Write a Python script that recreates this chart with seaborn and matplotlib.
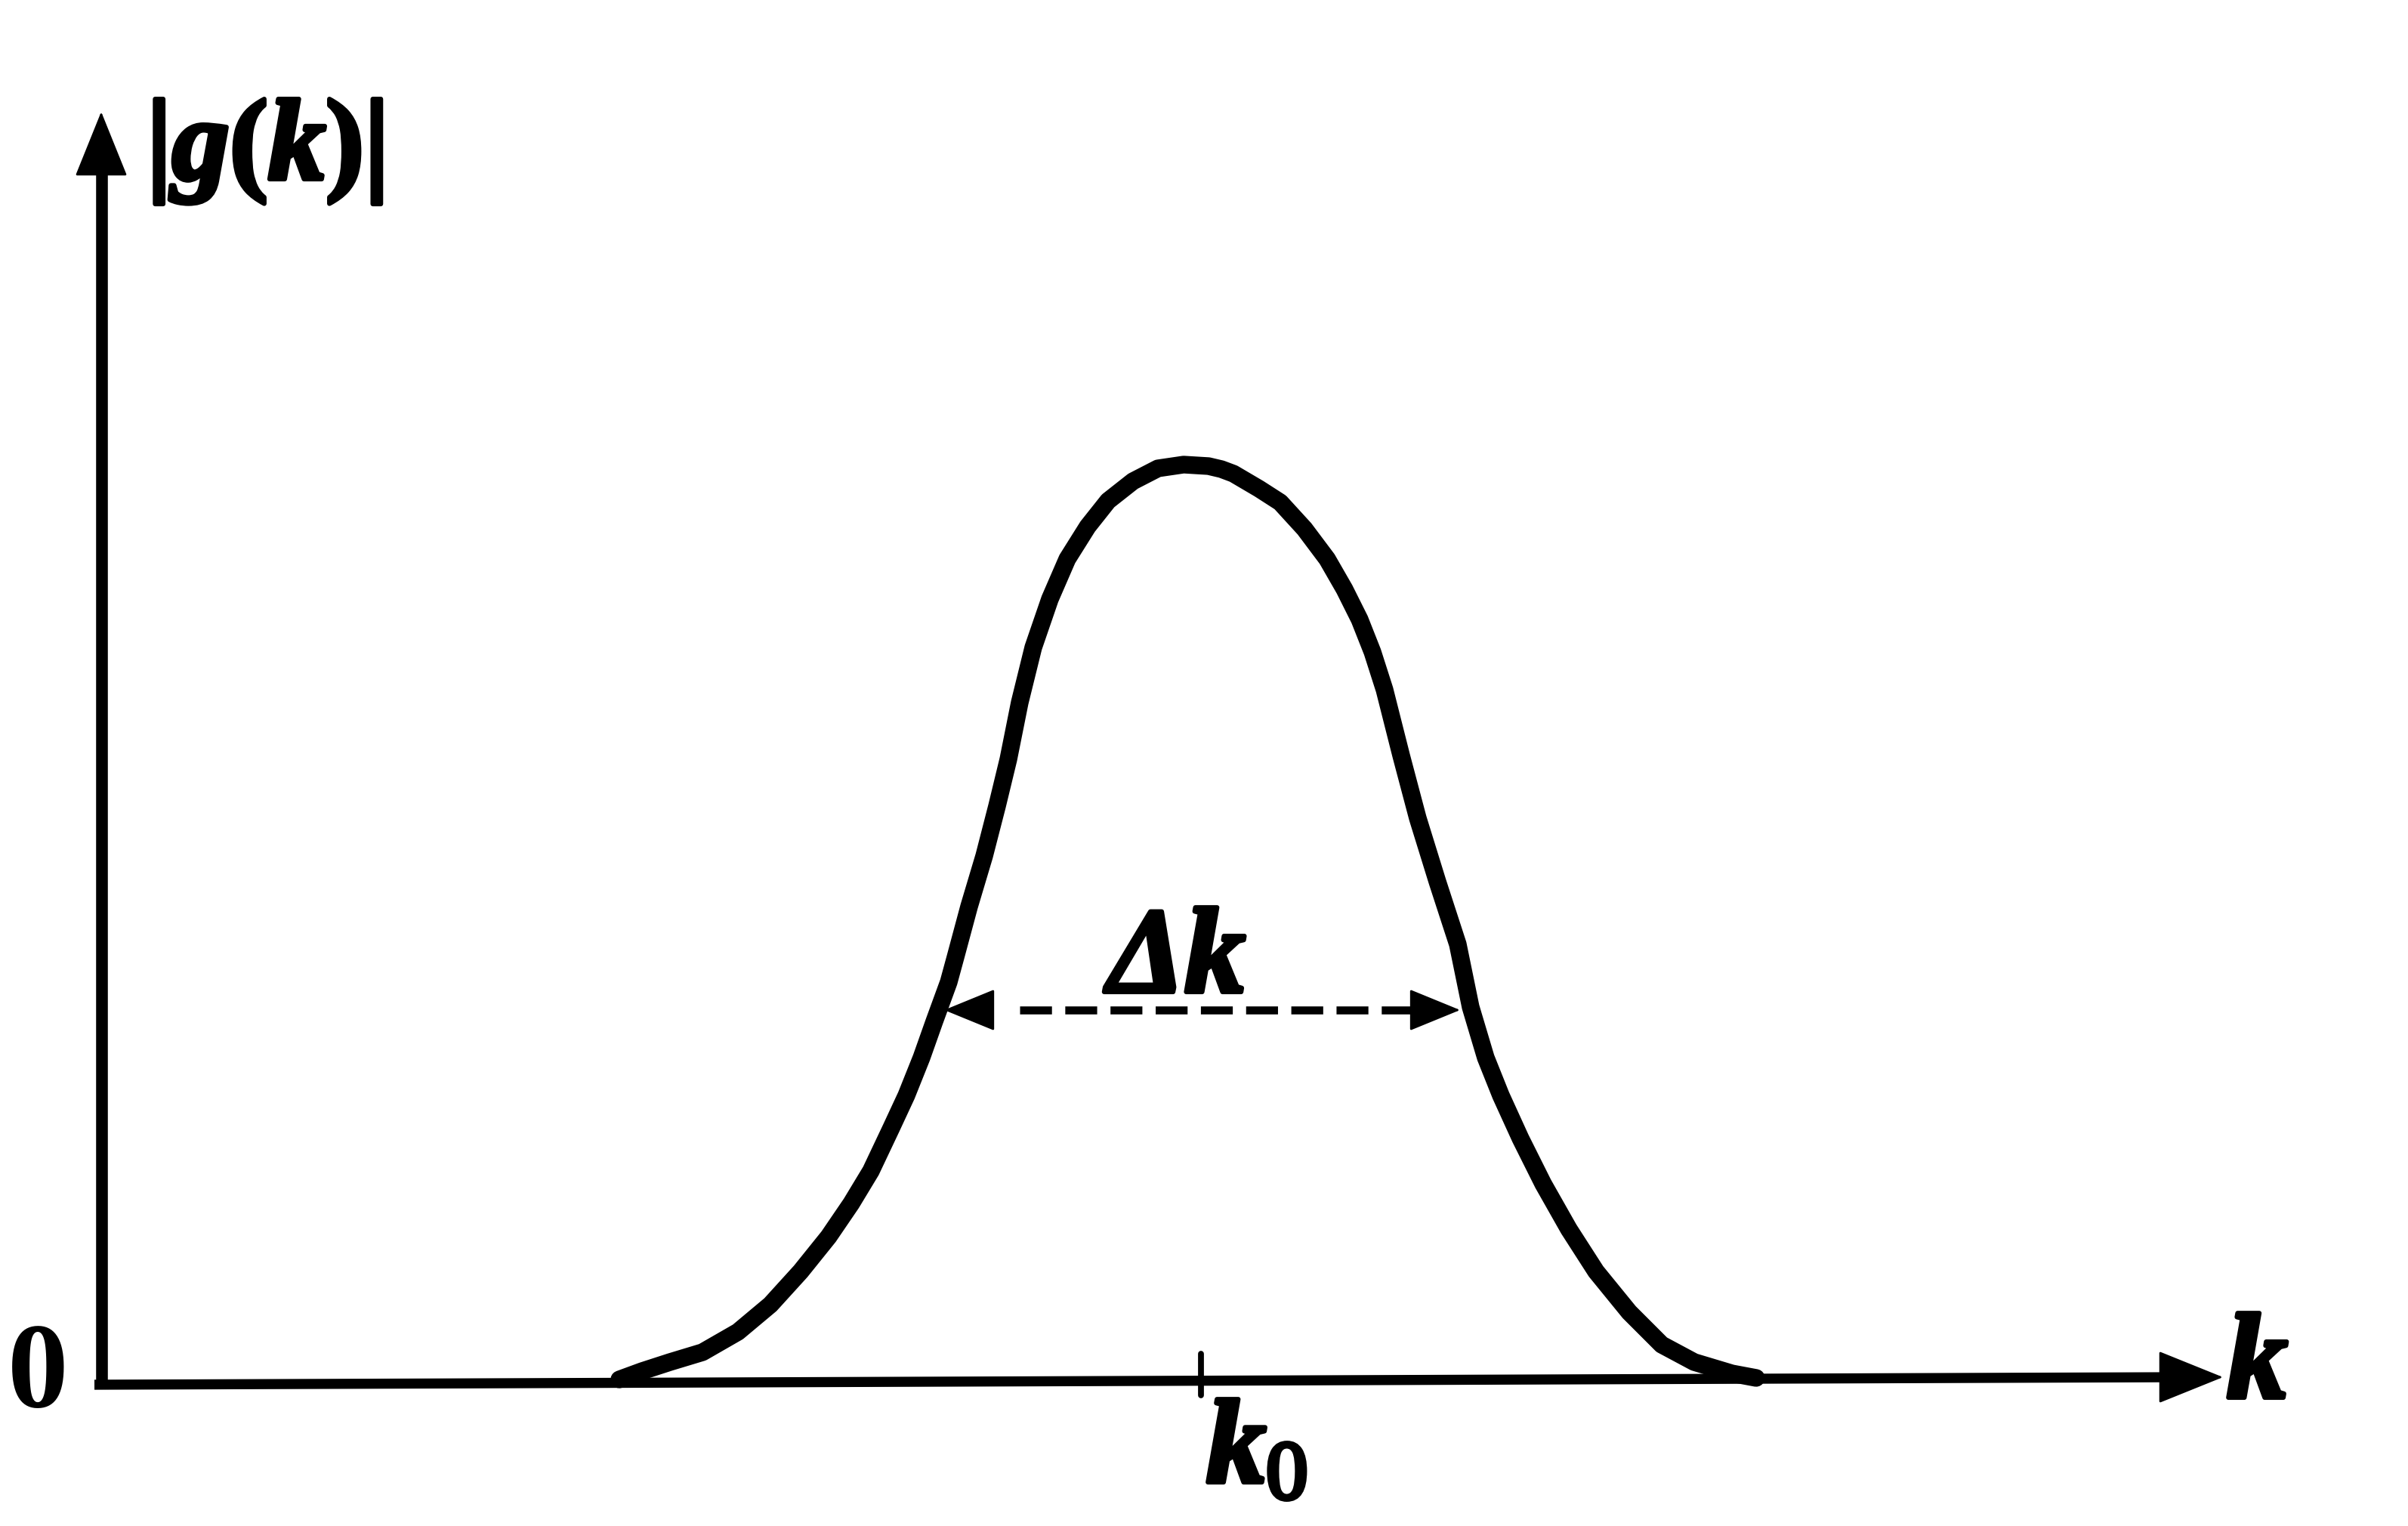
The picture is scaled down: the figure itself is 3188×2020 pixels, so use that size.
import matplotlib
matplotlib.use("Agg")
import matplotlib.pyplot as plt
import matplotlib.patheffects as pe
import seaborn as sns
import pandas as pd

# ---- data (k along the axis, |g(k)| height) ----
k_vals = [6.85, 7.15, 7.52, 7.95, 8.42, 8.85, 9.25, 9.62, 9.92, 10.18, 10.45, 10.65, 10.85,
          11.02, 11.21, 11.30, 11.48, 11.68, 11.85, 12.00, 12.15, 12.33, 12.55, 12.78,
          13.05, 13.32, 13.65, 13.98, 14.32, 14.65, 14.82, 14.98, 15.32, 15.60, 15.92, 16.22,
          16.45, 16.65, 16.82, 16.98, 17.20, 17.42, 17.68, 17.95, 18.12, 18.32, 18.52,
          18.78, 19.08, 19.42, 19.78, 20.22, 20.65, 21.08, 21.58, 21.90]
g_vals = [0.02, 0.13, 0.25, 0.38, 0.65, 1.01, 1.45, 1.91, 2.35, 2.78, 3.35, 3.78, 4.28,
          4.76, 5.28, 5.61, 6.28, 6.95, 7.61, 8.23, 8.98, 9.71, 10.35, 10.88,
          11.31, 11.65, 11.91, 12.08, 12.13, 12.11, 12.07, 12.01, 11.81, 11.63, 11.28, 10.88,
          10.48, 10.08, 9.65, 9.15, 8.28, 7.45, 6.61, 5.78, 4.95, 4.28, 3.78,
          3.21, 2.61, 2.01, 1.45, 0.91, 0.48, 0.25, 0.10, 0.04]
k0 = 14.55
dk_left, dk_right, dk_level = 11.15, 17.98, 4.91
y_label = "|$g$($k$)|"
x_label = "k"
k0_label = r"$k_0$"
dk_label = "Δk"
origin_label = "0"

sns.set_theme(style="white")
plt.rcParams["mathtext.fontset"] = "custom"
plt.rcParams["mathtext.rm"] = "Liberation Serif"
plt.rcParams["mathtext.it"] = "Liberation Serif:italic:bold"
plt.rcParams["mathtext.bf"] = "Liberation Serif:bold"
plt.rcParams["font.family"] = ["Liberation Serif", "DejaVu Serif"]

fig = plt.figure(figsize=(15.94, 10.10), dpi=200)
ax = fig.add_axes([0, 0, 1, 1])
ax.set_xlim(-1.35, 30.53)
ax.set_ylim(-1.92, 18.28)
ax.axis("off")

df = pd.DataFrame({"k": k_vals, "g": g_vals})
sns.lineplot(data=df, x="k", y="g", ax=ax, color="black", linewidth=8.4, sort=False,
             estimator=None, solid_capstyle="round", solid_joinstyle="round")

# axes: shafts + filled arrowheads
ax.plot([0, 0], [-0.08, 16.2], color="black", linewidth=5.6, solid_capstyle="butt")
ax.plot([-0.10, 27.5], [-0.05, 0.05], color="black", linewidth=4.8, solid_capstyle="butt")
axis_head = dict(arrowstyle="-|>,head_length=2.85,head_width=1.15", mutation_scale=10,
                 color="black", lw=1.0, shrinkA=0, shrinkB=0)
ax.annotate("", xy=(-0.01, 16.80), xytext=(-0.01, 15.6), arrowprops=axis_head)
ax.annotate("", xy=(28.08, 0.05), xytext=(27.2, 0.05), arrowprops=axis_head)

# k0 tick
ax.plot([k0, k0], [-0.19, 0.36], color="black", linewidth=2.8)

# delta k dashed double arrow
ax.plot([12.15, 17.36], [dk_level, dk_level], color="black",
        linewidth=3.8, dashes=(4.0, 1.67), dash_capstyle="butt")
dk_head = dict(arrowstyle="-|>,head_length=2.2,head_width=0.9", mutation_scale=10,
               color="black", lw=1.0, shrinkA=0, shrinkB=0)
ax.annotate("", xy=(dk_left, dk_level), xytext=(dk_left + 0.62, dk_level), arrowprops=dk_head)
ax.annotate("", xy=(dk_right, dk_level), xytext=(dk_right - 0.62, dk_level), arrowprops=dk_head)

# labels (a thin stroke thickens the glyphs like the heavy print face)
heavy = [pe.withStroke(linewidth=2.2, foreground="black")]
ax.text(2.15, 16.27, y_label, fontsize=55, ha="center", va="center", color="black",
        fontweight="bold", path_effects=heavy)
ax.text(28.13, -0.22, x_label, fontsize=58, ha="left", va="baseline", color="black",
        fontstyle="italic", fontweight="bold", path_effects=heavy)
ax.text(14.62, -1.35, k0_label, fontsize=57, ha="left", va="baseline", color="black",
        path_effects=heavy)
ax.text(14.23, 5.15, dk_label, fontsize=58, ha="center", va="baseline", color="black",
        fontstyle="italic", fontweight="bold", path_effects=heavy)
ax.text(-0.85, -0.34, origin_label, fontsize=58, ha="center", va="baseline", color="black",
        fontweight="bold")

fig.savefig("out.png", dpi=200, facecolor="white")
